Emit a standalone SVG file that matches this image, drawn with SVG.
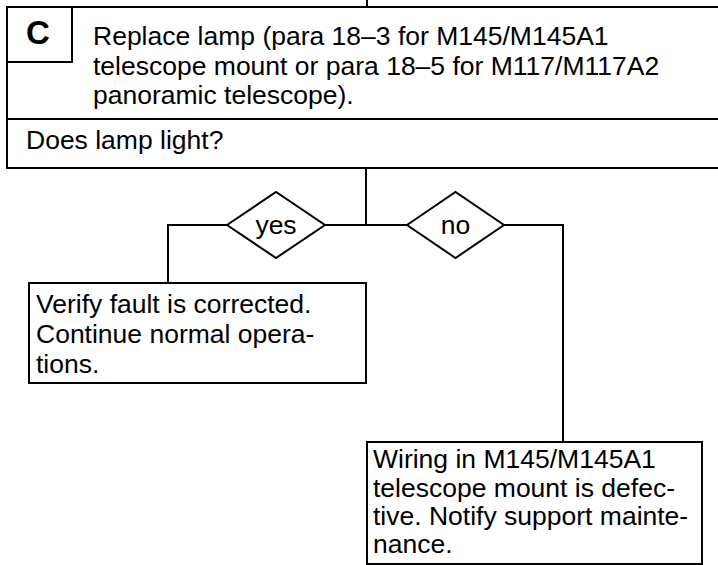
<svg xmlns="http://www.w3.org/2000/svg" width="718" height="565" viewBox="0 0 718 565">
<style>
  .box { fill: #fff; stroke: #000; stroke-width: 2; }
  .ln { fill: none; stroke: #000; stroke-width: 2; }
  text { font-family: "Liberation Sans", Arial, sans-serif; font-size: 26.5px; fill: #000; }
  .big { font-weight: bold; font-size: 33px; }
  .mid { text-anchor: middle; }
</style>
<rect width="718" height="565" fill="#fff"/>
<g id="connectors">
  <line class="ln" x1="367" y1="0" x2="367" y2="8"/>
  <line class="ln" x1="366" y1="168" x2="366" y2="225"/>
  <line class="ln" x1="325" y1="225" x2="407" y2="225"/>
  <polyline class="ln" points="227,225 168,225 168,283"/>
  <polyline class="ln" points="504,225 563,225 563,442"/>
</g>
<g id="step-c">
  <rect class="box" x="7" y="7" width="716" height="161"/>
  <line class="ln" x1="7" y1="119" x2="723" y2="119"/>
  <rect class="box" x="7" y="7" width="65" height="55"/>
  <text class="big mid" x="38" y="44">C</text>
  <text x="93" y="45">Replace lamp (para 18–3 for M145/M145A1</text>
  <text x="93" y="75">telescope mount or para 18–5 for M117/M117A2</text>
  <text x="93" y="104">panoramic telescope).</text>
  <text x="26" y="149">Does lamp light?</text>
</g>
<g id="yes">
  <polygon class="box" points="227,225 276,192 325,225 276,258"/>
  <text class="mid" x="276" y="234">yes</text>
</g>
<g id="no">
  <polygon class="box" points="407,225 455.5,192 504,225 455.5,258"/>
  <text class="mid" x="455.5" y="234">no</text>
</g>
<g id="verify">
  <rect class="box" x="29" y="283" width="337" height="100"/>
  <text x="36" y="313">Verify fault is corrected.</text>
  <text x="36" y="343">Continue normal opera-</text>
  <text x="36" y="373">tions.</text>
</g>
<g id="wiring">
  <rect class="box" x="367" y="442" width="335" height="122"/>
  <text x="373" y="468">Wiring in M145/M145A1</text>
  <text x="373" y="497">telescope mount is defec-</text>
  <text x="373" y="525">tive. Notify support mainte-</text>
  <text x="373" y="553">nance.</text>
</g>
</svg>
